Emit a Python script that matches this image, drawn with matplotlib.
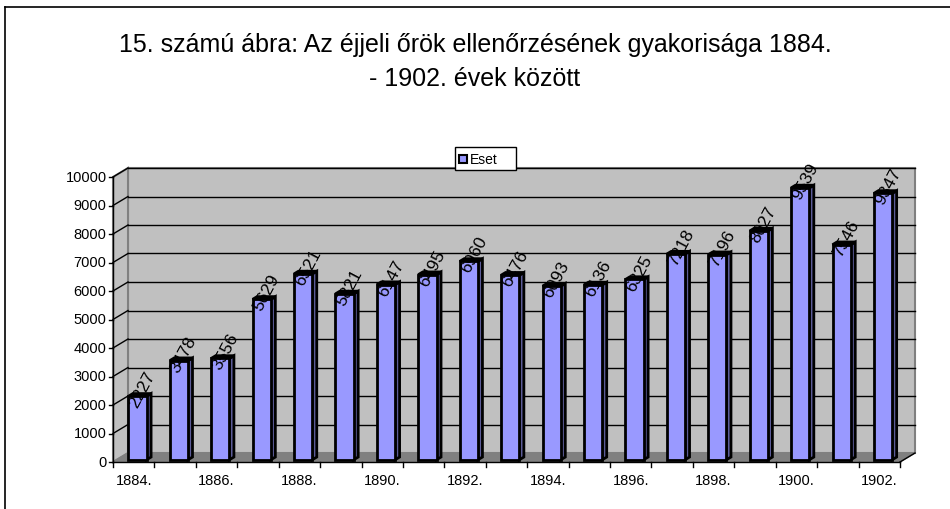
import matplotlib.pyplot as plt
from matplotlib.patches import Polygon

plt.rcParams['font.family'] = ['Liberation Sans', 'DejaVu Sans']

# --- data ---
years = [str(y) + '.' for y in range(1884, 1903)]
eset = [2227, 3478, 3556, 5629, 6521, 5821, 6147, 6495, 6960, 6476,
        6093, 6136, 6325, 7218, 7196, 8027, 9539, 7546, 9347]
yticks = list(range(0, 10001, 1000))

W, H = 950, 510
fig = plt.figure(figsize=(W / 100, H / 100), dpi=100)

# outer frame (left and top edges visible)
fig.add_artist(plt.Line2D([5 / W, 5 / W], [0, 1 - 8 / H], color='black', lw=1.2))
fig.add_artist(plt.Line2D([5 / W, 1], [1 - 8 / H, 1 - 8 / H], color='black', lw=1.2))

fig.text(475 / W, 1 - 45 / H, '15. számú ábra: Az éjjeli őrök ellenőrzésének gyakorisága 1884.',
         ha='center', va='center', fontsize=18)
fig.text(475 / W, 1 - 79 / H, '- 1902. évek között', ha='center', va='center', fontsize=18)

# front plane of the axes
x0, x1, y0, y1 = 113, 900, 463, 178
ax = fig.add_axes([x0 / W, 1 - y0 / H, (x1 - x0) / W, (y0 - y1) / H])
n = len(eset)
ax.set_xlim(0, n)
ax.set_ylim(0, 10000)
ax.axis('off')

dx = 15 / (x1 - x0) * n
dy = 9 / (y0 - y1) * 10000
top = 10000

# walls and floor
ax.add_patch(Polygon([(dx, dy), (n + dx, dy), (n + dx, top + dy), (dx, top + dy)],
                     closed=True, fc='#c0c0c0', ec='#808080', lw=1.5, zorder=1, clip_on=False))
ax.add_patch(Polygon([(0, 0), (dx, dy), (dx, top + dy), (0, top)],
                     closed=True, fc='#c0c0c0', ec='#808080', lw=1.5, zorder=1, clip_on=False))
ax.add_patch(Polygon([(0, 0), (n, 0), (n + dx, dy), (dx, dy)],
                     closed=True, fc='#808080', ec='#808080', lw=1, zorder=1.5, clip_on=False))
for v in yticks[1:]:
    ax.plot([dx, n + dx], [v + dy, v + dy], color='black', lw=1, zorder=2, clip_on=False)
    ax.plot([0, dx], [v, v + dy], color='black', lw=1, zorder=2, clip_on=False)

# axes lines
ax.plot([0, 0], [0, top], color='black', lw=1, zorder=3, clip_on=False)
ax.plot([0, n], [0, 0], color='black', lw=1, zorder=3, clip_on=False)
ax.plot([n, n + dx], [0, dy], color='black', lw=1, zorder=3, clip_on=False)
tick_dx = 4 / (x1 - x0) * n
tick_dy = 5 / (y0 - y1) * 10000
for v in yticks:
    ax.plot([-tick_dx, 0], [v, v], color='black', lw=1, zorder=3, clip_on=False)
    ax.text(-tick_dx - 0.06, v, str(v), ha='right', va='center', fontsize=10.5)
for i in range(n + 1):
    ax.plot([i, i], [0, -tick_dy], color='black', lw=1, zorder=3, clip_on=False)
for i, lab in enumerate(years):
    if i % 2 == 0:
        ax.text(i + 0.5, -620, lab, ha='center', va='center', fontsize=10.5)

# 3D bars
bw = 0.44
f0, f1 = 0.25, 0.55
front_c = '#9999ff'
side_c = '#5c5c99'
top_c = '#7a7acc'
for i, v in enumerate(eset):
    fx = i + 0.5 - bw / 2 + dx * f0
    fy = dy * f0
    ox, oy = dx * (f1 - f0), dy * (f1 - f0)
    z = 5 + i * 0.01
    ax.add_patch(Polygon([(fx + bw, fy), (fx + bw + ox, fy + oy),
                          (fx + bw + ox, v + fy + oy), (fx + bw, v + fy)],
                         closed=True, fc=side_c, ec='black', lw=2, zorder=z, clip_on=False))
    ax.add_patch(Polygon([(fx, v + fy), (fx + bw, v + fy),
                          (fx + bw + ox, v + fy + oy), (fx + ox, v + fy + oy)],
                         closed=True, fc=top_c, ec='black', lw=2, zorder=z, clip_on=False))
    ax.add_patch(Polygon([(fx, fy), (fx + bw, fy), (fx + bw, v + fy), (fx, v + fy)],
                         closed=True, fc=front_c, ec='black', lw=2, zorder=z, clip_on=False))
    ax.text(fx + bw / 2 + 0.12, v + fy + 250, str(v), rotation=62,
            ha='center', va='center', fontsize=12.5, zorder=10)

# legend
lx0, lx1, ly0, ly1 = 455, 516, 148, 171
fig.add_artist(plt.Rectangle((lx0 / W, 1 - ly1 / H), (lx1 - lx0) / W, (ly1 - ly0) / H,
                             fc='white', ec='black', lw=1))
fig.add_artist(plt.Rectangle((459 / W, 1 - 164 / H), 8 / W, 8 / H,
                             fc=front_c, ec='black', lw=1.5))
fig.text(470 / W, 1 - 160 / H, 'Eset', ha='left', va='center', fontsize=10)

fig.savefig('out.png', dpi=100)
